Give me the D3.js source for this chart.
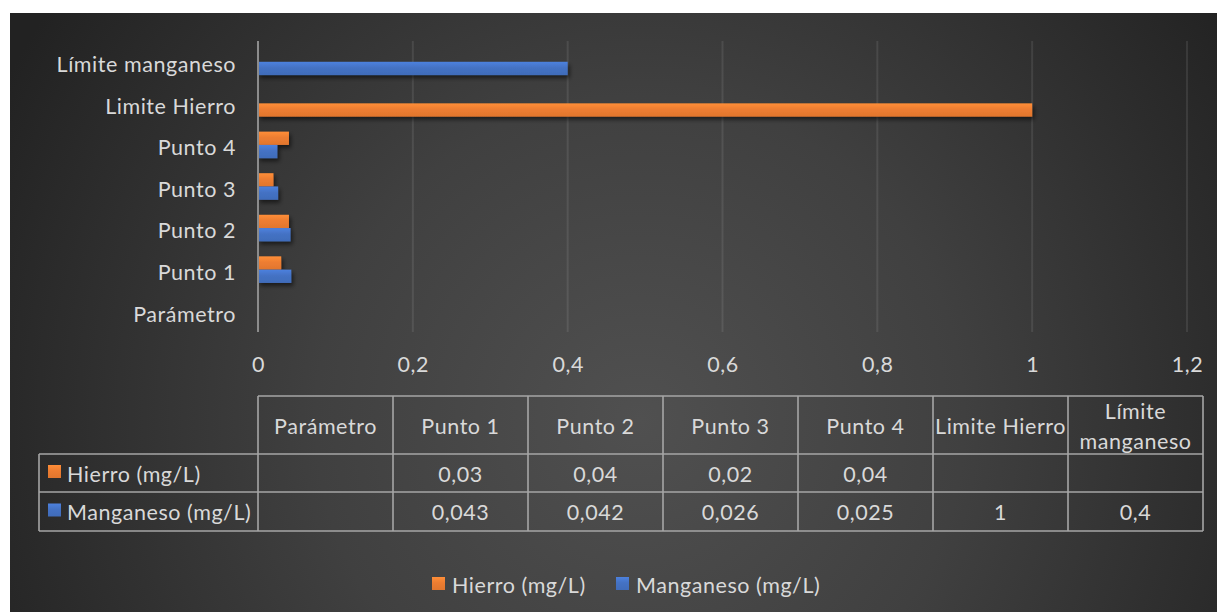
<!DOCTYPE html>
<html>
<head>
<meta charset="utf-8">
<script src="https://cdn.jsdelivr.net/npm/d3@7"></script>
<style>
  html, body { margin: 0; padding: 0; background: #ffffff; }
  svg { display: block; }
  text { font-family: Lato, "Open Sans", sans-serif; fill: #d9d9d9; letter-spacing: 0.55px; }
</style>
</head>
<body>
<svg id="chart" width="1217" height="612"></svg>
<script>
// Categories, bottom to top on the chart, left to right in the data table
const categories = ["Parámetro", "Punto 1", "Punto 2", "Punto 3", "Punto 4", "Limite Hierro", "Límite manganeso"];
const tableHeaders = ["Parámetro", "Punto 1", "Punto 2", "Punto 3", "Punto 4", "Limite Hierro", "Límite\nmanganeso"];

// Series values (null = empty cell)
const hierro    = [null, 0.03, 0.04, 0.02, 0.04, null, null];
const manganeso = [null, 0.043, 0.042, 0.026, 0.025, 1, 0.4];

// Series names and colours
const seriesNames = ["Hierro (mg/L)", "Manganeso (mg/L)"];
const seriesColors = ["#ed7d31", "#4472c4"];
// The iron limit point is shown in the iron colour
const pointColorOverride = { "1|Limite Hierro": 0 };

// Value axis ticks
const xTicks = [0, 0.2, 0.4, 0.6, 0.8, 1, 1.2];

const svg = d3.select("#chart");
const W = 1217, H = 612;
const FS = 21.5;
const defs = svg.append("defs");

// Background: dark radial gradient
const bg = defs.append("radialGradient").attr("id", "bgGrad")
  .attr("gradientUnits", "userSpaceOnUse")
  .attr("cx", 640).attr("cy", 420).attr("r", 720);
bg.append("stop").attr("offset", "0%").attr("stop-color", "#505050");
bg.append("stop").attr("offset", "45%").attr("stop-color", "#404040");
bg.append("stop").attr("offset", "100%").attr("stop-color", "#222222");
svg.append("rect").attr("x", 10).attr("y", 13).attr("width", W - 10).attr("height", H - 13)
  .attr("fill", "url(#bgGrad)");

// Bar gradients
seriesColors.forEach((c, i) => {
  const g = defs.append("linearGradient").attr("id", "barGrad" + i)
    .attr("x1", 0).attr("y1", 0).attr("x2", 0).attr("y2", 1);
  g.append("stop").attr("offset", "0%").attr("stop-color", d3.color(c).brighter(0.35));
  g.append("stop").attr("offset", "45%").attr("stop-color", c);
  g.append("stop").attr("offset", "100%").attr("stop-color", d3.color(c).darker(0.15));
});

// Bar shadow
const sh = defs.append("filter").attr("id", "barShadow")
  .attr("x", "-10%").attr("y", "-50%").attr("width", "130%").attr("height", "250%");
sh.append("feDropShadow").attr("dx", 2).attr("dy", 3).attr("stdDeviation", 2.2)
  .attr("flood-color", "#000").attr("flood-opacity", 0.55);

// Plot area
const plot = { left: 258, right: 1187, top: 41, bottom: 332 };

const x = d3.scaleLinear().domain([0, 1.2]).range([plot.left, plot.right]);
const y = d3.scaleBand().domain(categories).range([plot.bottom, plot.top])
  .paddingInner(0.36).paddingOuter(0.18);
const ySeries = d3.scaleBand().domain([0, 1]).range([0, y.bandwidth()]);

// Gridlines
svg.append("g").selectAll("line").data(xTicks.slice(1)).join("line")
  .attr("x1", d => x(d)).attr("x2", d => x(d))
  .attr("y1", plot.top).attr("y2", plot.bottom)
  .attr("stroke", "rgba(255,255,255,0.09)").attr("stroke-width", 2);

// Bars
const rows = [];
[hierro, manganeso].forEach((vals, si) => {
  vals.forEach((v, ci) => {
    if (v == null) return;
    const key = si + "|" + categories[ci];
    const colorIdx = key in pointColorOverride ? pointColorOverride[key] : si;
    rows.push({ si, cat: categories[ci], v, colorIdx });
  });
});
svg.append("g").attr("filter", "url(#barShadow)")
  .selectAll("rect").data(rows).join("rect")
  .attr("x", x(0))
  .attr("y", d => y(d.cat) + ySeries(d.si))
  .attr("width", d => x(d.v) - x(0))
  .attr("height", ySeries.bandwidth())
  .attr("fill", d => "url(#barGrad" + d.colorIdx + ")");

// Category axis line
svg.append("line")
  .attr("x1", x(0)).attr("x2", x(0)).attr("y1", plot.top).attr("y2", plot.bottom)
  .attr("stroke", "#8c8c8c").attr("stroke-width", 2);

// Category labels
const yAxis = d3.axisLeft(y).tickSize(0).tickPadding(22);
const yAxisG = svg.append("g").attr("transform", `translate(${x(0)},0)`).call(yAxis);
yAxisG.select(".domain").remove();
yAxisG.selectAll("text").attr("font-size", FS).attr("dy", "0.48em")
  .style("font-family", "Lato, sans-serif").attr("fill", "#d9d9d9");

// Value tick labels
const xAxis = d3.axisBottom(x).tickValues(xTicks).tickSize(0)
  .tickFormat(d => String(d).replace(".", ","));
const xAxisG = svg.append("g").attr("transform", `translate(0,354)`).call(xAxis);
xAxisG.select(".domain").remove();
xAxisG.selectAll("text").attr("font-size", FS).attr("dy", "0.71em")
  .style("font-family", "Lato, sans-serif").attr("fill", "#d9d9d9");

// Data table
const colW = 135;
const tLeft = 39;
const rowY = [396, 454, 492, 531];
const colX = d3.range(categories.length + 1).map(i => plot.left + i * colW);
const tbl = svg.append("g");
const lineColor = "#a6a6a6";
const fmt = v => v == null ? "" : String(v).replace(".", ",");

// horizontal lines
tbl.append("line").attr("x1", plot.left).attr("x2", colX[colX.length - 1])
  .attr("y1", rowY[0]).attr("y2", rowY[0]);
[1, 2, 3].forEach(r => tbl.append("line").attr("x1", tLeft).attr("x2", colX[colX.length - 1])
  .attr("y1", rowY[r]).attr("y2", rowY[r]));
// vertical lines
colX.forEach(cx => tbl.append("line").attr("x1", cx).attr("x2", cx)
  .attr("y1", rowY[0]).attr("y2", rowY[3]));
tbl.append("line").attr("x1", tLeft).attr("x2", tLeft).attr("y1", rowY[1]).attr("y2", rowY[3]);
tbl.selectAll("line").attr("stroke", lineColor).attr("stroke-width", 1.6);

// header texts
tableHeaders.forEach((h, i) => {
  const lines = h.split("\n");
  const cx = colX[i] + colW / 2;
  const cy = (rowY[0] + rowY[1]) / 2;
  const t = tbl.append("text").attr("x", cx).attr("text-anchor", "middle").attr("font-size", FS);
  lines.forEach((ln, k) => {
    t.append("tspan").attr("x", cx)
      .attr("y", cy + (k - (lines.length - 1) / 2) * 30)
      .attr("dy", "0.4em").text(ln);
  });
});

// series rows
[hierro, manganeso].forEach((vals, si) => {
  const cy = (rowY[si + 1] + rowY[si + 2]) / 2;
  tbl.append("rect").attr("x", 48).attr("y", cy - 8).attr("width", 13).attr("height", 13)
    .attr("fill", "url(#barGrad" + si + ")");
  tbl.append("text").attr("x", 67).attr("y", cy).attr("dy", "0.4em")
    .attr("font-size", FS).text(seriesNames[si]);
  vals.forEach((v, ci) => {
    tbl.append("text").attr("x", colX[ci] + colW / 2).attr("y", cy).attr("dy", "0.4em")
      .attr("text-anchor", "middle").attr("font-size", FS).text(fmt(v));
  });
});

// Legend
const legend = svg.append("g").attr("transform", "translate(0,584)");
const legendX = [432, 616];
seriesNames.forEach((n, i) => {
  legend.append("rect").attr("x", legendX[i]).attr("y", -7).attr("width", 13).attr("height", 13)
    .attr("fill", "url(#barGrad" + i + ")");
  legend.append("text").attr("x", legendX[i] + 20).attr("y", 0).attr("dy", "0.4em")
    .attr("font-size", FS).text(n);
});
</script>
</body>
</html>
